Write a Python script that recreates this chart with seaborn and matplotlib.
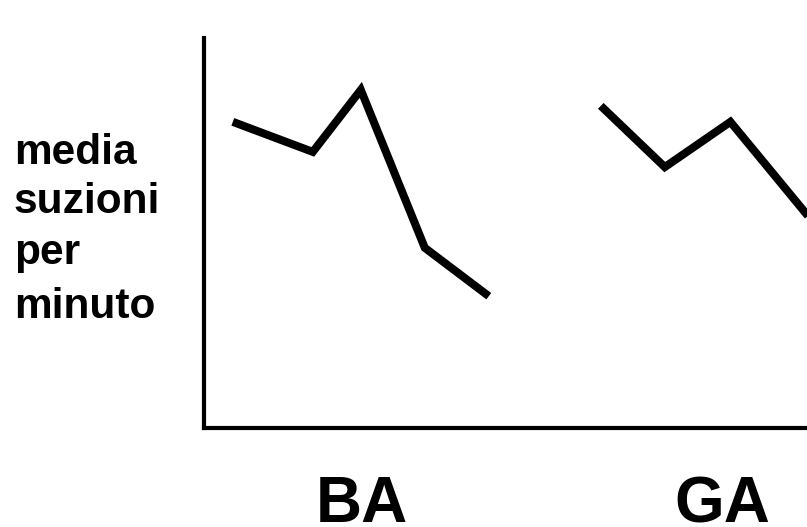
import matplotlib
matplotlib.use("Agg")
import matplotlib.pyplot as plt
import seaborn as sns
import pandas as pd

# data (x in arbitrary time units, y in arbitrary rate units)
ba_x = [1.8, 6.8, 9.8, 13.8, 17.8]
ba_y = [7.85, 7.08, 8.67, 4.62, 3.38]
ga_x = [24.8, 28.8, 32.9, 40.9]
ga_y = [8.26, 6.69, 7.85, 3.87]
group_labels = ["BA", "GA"]
group_centers = [9.875, 32.4]
ylabel_lines = ["media", "suzioni", "per", "minuto"]

df = pd.DataFrame({
    "x": ba_x + ga_x,
    "y": ba_y + ga_y,
    "group": ["BA"] * len(ba_x) + ["GA"] * len(ga_x),
})

sns.set_theme(style="white")
plt.rcParams["font.family"] = ["Liberation Sans", "DejaVu Sans"]

W, H = 807, 527
fig = plt.figure(figsize=(W / 100, H / 100), dpi=100)
left_px, bottom_px, top_px, right_px = 204, 428, 38, 876
ax = fig.add_axes([left_px / W, (H - bottom_px) / H,
                   (right_px - left_px) / W, (bottom_px - top_px) / H])

sns.lineplot(data=df, x="x", y="y", hue="group", palette=["black", "black"],
             units="group", estimator=None, sort=False, legend=False,
             linewidth=5.8, ax=ax,
             solid_capstyle="butt", solid_joinstyle="miter")
ax.set_xlim(0, 42)
ax.set_ylim(0, 10)

for s in ["top", "right"]:
    ax.spines[s].set_visible(False)
for s in ["left", "bottom"]:
    ax.spines[s].set_color("black")
    ax.spines[s].set_linewidth(3)
    ax.spines[s].set_capstyle("projecting")

ax.set_yticks([])
ax.set_xticks(group_centers)
ax.set_xticklabels(group_labels, fontsize=46, fontweight="bold", color="black")
ax.tick_params(axis="x", length=0, pad=34)
ax.set_xlabel("")
ax.set_ylabel("")

# y-axis title, one text per line (baselines)
baselines_px = [164, 213, 264, 318]
for line, b in zip(ylabel_lines, baselines_px):
    fig.text(14 / W, (H - b) / H, line, fontsize=30.5, fontweight="bold",
             color="black", ha="left", va="baseline")

fig.savefig("out.png", dpi=100, facecolor="white")
